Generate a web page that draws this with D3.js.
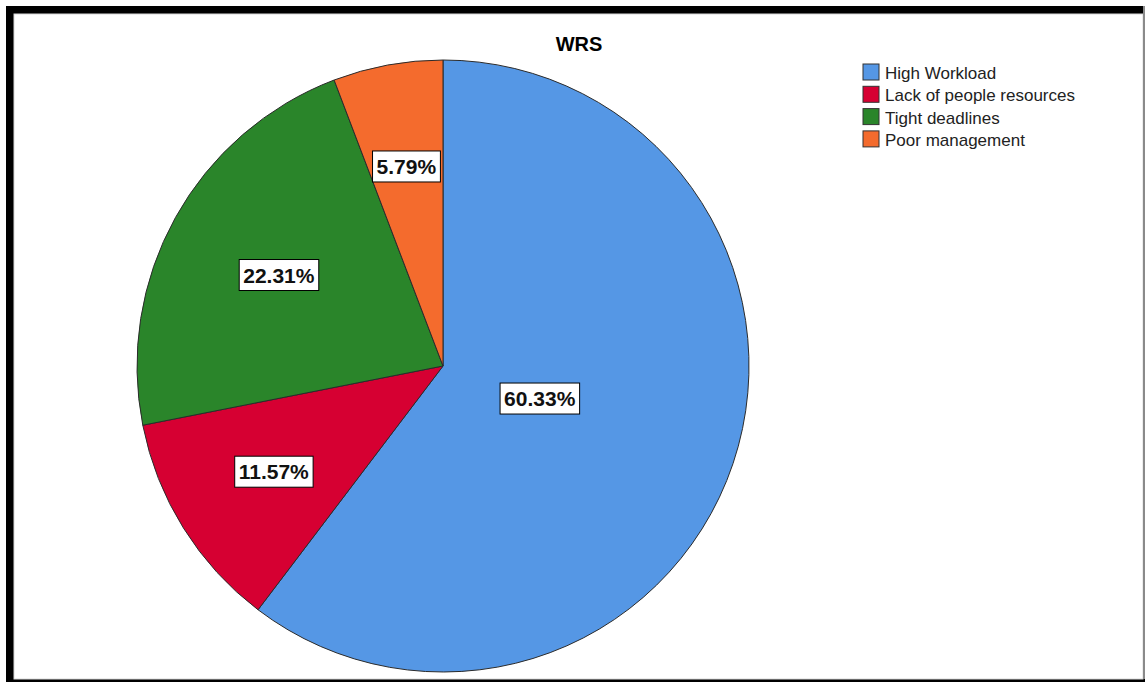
<!DOCTYPE html>
<html>
<head>
<meta charset="utf-8">
<script src="https://cdn.jsdelivr.net/npm/d3@7"></script>
<style>
  html, body { margin: 0; padding: 0; background: #fff; }
  svg { display: block; font-family: "Liberation Sans", Arial, sans-serif; }
</style>
</head>
<body>
<svg id="pie" width="1145" height="682"></svg>
<script>
(() => {

    // chart data
    const categories = ['High Workload', 'Lack of people resources', 'Tight deadlines', 'Poor management'];
    const percents = [60.33, 11.57, 22.31, 5.79];
    const slice_colors = ['#5597e5', '#d60032', '#2a852a', '#f46b2d'];
    const chart_title = 'WRS';

    // chart parameters
    const width = 1145;
    const height = 682;
    const cx = 443;
    const cy = 366;
    const radius = 306;

    let svg = d3.select('#pie');

    // frame
    svg.append('rect')
        .attr('x', 6).attr('y', 6)
        .attr('width', width - 6).attr('height', height - 6)
        .attr('fill', '#000');
    svg.append('rect')
        .attr('x', 14).attr('y', 14)
        .attr('width', 1143 - 14).attr('height', 679 - 14)
        .attr('fill', '#fff')
        .attr('stroke', '#d8d8d8')
        .attr('stroke-width', 1);
    svg.append('rect')
        .attr('x', 1143).attr('y', 6)
        .attr('width', 2).attr('height', 673)
        .attr('fill', '#8a8a8a');

    // title
    svg.append('text')
        .attr('x', 579)
        .attr('y', 51)
        .text(chart_title)
        .style('font-size', '20px')
        .style('font-weight', 'bold')
        .style('text-anchor', 'middle');

    // pie
    let data = categories.map((c, i) => ({ name: c, value: percents[i], color: slice_colors[i] }));
    let pie = d3.pie().sort(null).value((d) => d.value);
    let arcs = pie(data);
    let arc = d3.arc().innerRadius(0).outerRadius(radius);

    let g = svg.append('g').attr('transform', `translate(${cx}, ${cy})`);

    g.selectAll('.slice')
        .data(arcs)
        .enter()
        .append('path')
        .attr('class', 'slice')
        .attr('d', arc)
        .attr('fill', (d) => d.data.color)
        .attr('stroke', '#2b2b2b')
        .attr('stroke-width', 1);

    // labels at the area centroid of each sector
    let label_pos = function (d) {
        let half = (d.endAngle - d.startAngle) / 2;
        let mid = d.startAngle + half;
        let dist = 2 * radius * Math.sin(half) / (3 * half);
        return [Math.sin(mid) * dist, -Math.cos(mid) * dist];
    };

    let labels = g.selectAll('.label')
        .data(arcs)
        .enter()
        .append('g')
        .attr('class', 'label')
        .attr('transform', (d) => `translate(${label_pos(d)})`);

    labels.append('text')
        .attr('y', 7.5)
        .text((d) => d.data.value.toFixed(2) + '%')
        .style('font-size', '21px')
        .style('font-weight', 'bold')
        .style('fill', '#111')
        .style('text-anchor', 'middle');

    labels.each(function () {
        let node = d3.select(this);
        let bb = node.select('text').node().getBBox();
        node.insert('rect', 'text')
            .attr('x', bb.x - 4)
            .attr('y', -15.5)
            .attr('width', bb.width + 8)
            .attr('height', 31)
            .attr('fill', '#fff')
            .attr('stroke', '#000')
            .attr('stroke-width', 1);
    });

    // legend
    let legend = svg.append('g').attr('transform', 'translate(863, 64)');

    legend.selectAll('.key')
        .data(data)
        .enter()
        .append('rect')
        .attr('x', 0)
        .attr('y', (d, i) => i * 22.3)
        .attr('width', 16)
        .attr('height', 16)
        .attr('fill', (d) => d.color)
        .attr('stroke', '#333')
        .attr('stroke-width', 1);

    legend.selectAll('.name')
        .data(data)
        .enter()
        .append('text')
        .attr('x', 22)
        .attr('y', (d, i) => i * 22.3 + 15)
        .text((d) => d.name)
        .style('font-size', '17px')
        .style('fill', '#222');

})();
</script>
</body>
</html>
